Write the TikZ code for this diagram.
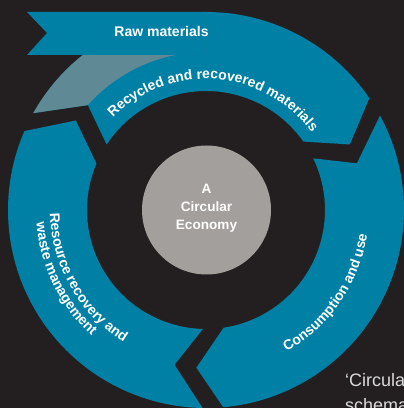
\documentclass[tikz,border=0pt]{standalone}
\usepackage{fontspec}
\setmainfont{Liberation Sans}
\usetikzlibrary{decorations.text}
\definecolor{bgdark}{HTML}{231F20}
\definecolor{cblue}{HTML}{0080A5}
\definecolor{cfade}{HTML}{5F8994}
\definecolor{cgray}{HTML}{A39F9C}
\definecolor{ccap}{HTML}{DADADA}
\begin{document}
\begin{tikzpicture}[x=1pt,y=1pt,
  seg/.style={fill=cblue},
  fade/.style={fill=cfade},
  lbl/.style={text=white,inner sep=0pt,font=\bfseries\fontsize{14}{16}\selectfont},
  hubtxt/.style={text=white,inner sep=0pt,anchor=base,font=\bfseries\fontsize{13.6}{16}\selectfont},
  captxt/.style={text=ccap,inner sep=0pt,anchor=base west,font=\fontsize{18}{21}\selectfont},
  arctext/.style={decorate,decoration={text along path,text align=center,text color=white,
    text={|\bfseries\fontsize{14}{14}\selectfont|#1}}}]
\fill[bgdark] (0,0) rectangle (404,408);
\useasboundingbox (0,0) rectangle (404,408);
\clip (0,0) rectangle (404,408);
\begin{scope}[shift={(206,198)}]
  % top arrow (recycled)
  \fill[seg] (150.7:198) arc[start angle=150.7,end angle=34.4,radius=198]
    -- (24.5:158) -- (35.1:119) arc[start angle=35.1,end angle=146.6,radius=119]
    -- (138.4:158) -- cycle;
  % faded outer part
  \fill[fade] (150.7:198) -- (138.4:158) arc[start angle=138.4,end angle=90,radius=158]
    -- (90:198) arc[start angle=90,end angle=150.7,radius=198] -- cycle;
  % right arrow (consumption)
  \fill[seg] (28.5:198) arc[start angle=28.5,end angle=-85,radius=198]
    -- (-93.5:158) -- (-81.5:119) arc[start angle=-81.5,end angle=25.7,radius=119]
    -- (17.2:158) -- cycle;
  % left arrow (resource recovery)
  \fill[seg] (269:198) arc[start angle=269,end angle=156.5,radius=198]
    -- (145.5:158) -- (157:119) arc[start angle=157,end angle=268.5,radius=119]
    -- (258.5:158) -- cycle;
\end{scope}
% raw materials band
\fill[seg] (27,396) -- (206,396) -- (206,353) -- (27,353) -- (47,375) -- cycle;
\node[lbl,anchor=base] (raw) at (161.5,371) {Raw materials};
% curved labels
\begin{scope}[shift={(206,198)}]
  \path[arctext={Recycled and recovered materials}] (145.7:131) arc[start angle=145.7,end angle=25.7,radius=131];
  \path[arctext={Consumption and use}] (-84.5:163) arc[start angle=-84.5,end angle=15.5,radius=163];
  \path[arctext={Resource recovery and}] (159.8:156) arc[start angle=159.8,end angle=259.8,radius=156];
  \path[arctext={waste management}] (156:170) arc[start angle=156,end angle=256,radius=170];
\end{scope}
% hub
\node[circle,fill=cgray,minimum size=129pt,inner sep=0pt] (hub) at (206.5,198) {};
\node[hubtxt] (hubA) at (206.5,214.5) {A};
\node[hubtxt] (hubB) at (206.5,196) {Circular};
\node[hubtxt] (hubC) at (206.5,178) {Economy};
% caption (cut off at the edge)
\node[captxt] (cap1) at (345,21) {‘Circula};
\node[captxt] (cap2) at (345,-3) {schema};
\end{tikzpicture}
\end{document}
